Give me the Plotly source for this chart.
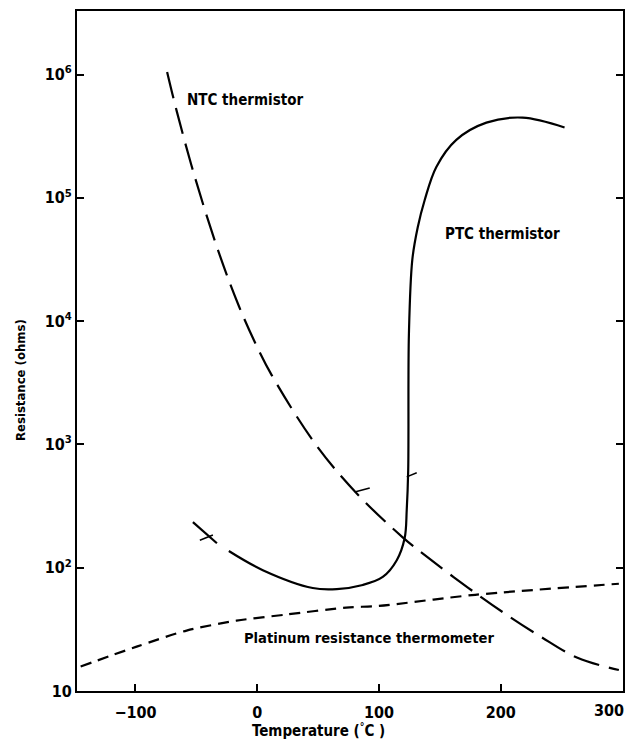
import plotly.graph_objects as go

# ---- data (temperature in degC, resistance in ohms) ----
ntc_T = [-74, -66, -51, -31, -15, -2.4, 12, 48, 81, 119, 143, 173, 203, 233, 263, 297]
ntc_R = [1.05e6, 5.0e5, 1.45e5, 3.47e4, 1.32e4, 6.9e3, 3.63e3, 1.0e3, 407, 178, 115, 69, 42.7, 27.5, 18.6, 14.8]

ptc_stub_T = [-52.8, -33.1]
ptc_stub_R = [234, 158]
ptc_tick_T = [-47.1, -36.4]
ptc_tick_R = [167, 184]

ptc_T = [-23.3, 4.6, 45.6, 65.3, 86.7, 103.1, 114.6, 121.1, 122.8, 124.0, 124.6, 127.4, 131.8, 137.5,
         147.1, 163.5, 188.2, 217.9, 252.4]
ptc_R = [136.5, 95.5, 68.4, 67.1, 72.4, 84.1, 115, 174, 295, 617, 7.94e3, 3.16e4, 5.75e4, 9.55e4,
         1.78e5, 2.95e5, 4.07e5, 4.47e5, 3.72e5]

trace_a_T = [80.1, 92.4]
trace_a_R = [411, 443]
trace_b_T = [122.8, 131.0]
trace_b_R = [545, 589]

pt_T = [-145, -99, -58, -17, 24, 73, 100, 179, 297]
pt_R = [15.8, 22.9, 30.9, 37.2, 41.7, 47.5, 49, 60.3, 74.1]

y_tickvals = [10, 100, 1e3, 1e4, 1e5, 1e6]
y_ticktext = ["10", "10<sup>2</sup>", "10<sup>3</sup>", "10<sup>4</sup>", "10<sup>5</sup>", "10<sup>6</sup>"]
x_tickvals = [-100, 0, 100, 200, 300]
x_ticktext = ["\u2212100", "0", "100", "200", "300"]

FONT = "DejaVu Sans Condensed, Liberation Sans Narrow, Roboto Condensed, DejaVu Sans, sans-serif"

fig = go.Figure()
fig.add_trace(go.Scatter(x=ntc_T, y=ntc_R, mode="lines",
                         line=dict(color="black", width=2.2, dash="27px,10px", shape="spline", smoothing=1.0),
                         hoverinfo="skip"))
fig.add_trace(go.Scatter(x=ptc_stub_T, y=ptc_stub_R, mode="lines",
                         line=dict(color="black", width=2.2), hoverinfo="skip"))
fig.add_trace(go.Scatter(x=ptc_tick_T, y=ptc_tick_R, mode="lines",
                         line=dict(color="black", width=1.6), hoverinfo="skip"))
fig.add_trace(go.Scatter(x=ptc_T, y=ptc_R, mode="lines",
                         line=dict(color="black", width=2.2, shape="spline", smoothing=1.0),
                         hoverinfo="skip"))
fig.add_trace(go.Scatter(x=trace_a_T, y=trace_a_R, mode="lines",
                         line=dict(color="black", width=1.6), hoverinfo="skip"))
fig.add_trace(go.Scatter(x=trace_b_T, y=trace_b_R, mode="lines",
                         line=dict(color="black", width=1.4), hoverinfo="skip"))
fig.add_trace(go.Scatter(x=pt_T, y=pt_R, mode="lines",
                         line=dict(color="black", width=2.2, dash="11px,7px", shape="spline", smoothing=0.8),
                         hoverinfo="skip"))

W, H = 627, 742
L, R_, T_, B = 77, 4, 11, 51
pw, ph = W - L - R_, H - T_ - B


def px2paper(px, py):
    return (px - L) / pw, 1 - (py - T_) / ph


def label(text, px, py, xanchor="left", size=15, angle=0):
    x, y = px2paper(px, py)
    return dict(text=text, x=x, y=y, xref="paper", yref="paper", xanchor=xanchor, yanchor="middle",
                showarrow=False, textangle=angle,
                font=dict(family=FONT, size=size, color="black", weight="bold"))


tickfont = dict(family=FONT, size=16, color="black", weight="bold")

# the last x tick label sits left of its tick (kept inside the page), drawn as a label
last_tick = dict(text=x_ticktext[-1], x=x_tickvals[-1], xref="x", y=px2paper(0, 711)[1], yref="paper",
                 xanchor="right", yanchor="middle", xshift=3, showarrow=False, font=tickfont)
shown_ticktext = x_ticktext[:-1] + [""]

fig.update_layout(
    width=W, height=H,
    margin=dict(l=L, r=R_, t=T_, b=B),
    paper_bgcolor="white", plot_bgcolor="white",
    showlegend=False,
    font=dict(family=FONT, color="black", size=15),
    xaxis=dict(type="linear", range=[-148, 300.4], tickmode="array", automargin=False,
               tickvals=x_tickvals, ticktext=shown_ticktext, ticklabelstandoff=6,
               ticks="inside", ticklen=7, tickwidth=2, tickcolor="black",
               showline=True, linecolor="black", linewidth=2, mirror=True,
               showgrid=False, zeroline=False, tickfont=tickfont),
    yaxis=dict(type="log", range=[1, 6.515], tickmode="array", automargin=False,
               tickvals=y_tickvals, ticktext=y_ticktext,
               ticks="inside", ticklen=7, tickwidth=2, tickcolor="black",
               showline=True, linecolor="black", linewidth=2, mirror="ticks",
               showgrid=False, zeroline=False, tickfont=tickfont),
    annotations=[
        label("NTC thermistor", 185, 100),
        label("PTC thermistor", 443, 234),
        label("Platinum resistance thermometer", 242, 637, size=14.6),
        label("Temperature (<sup>\u00b0</sup>C )", 318, 730, xanchor="center"),
        label("Resistance (ohms)", 20, 380, xanchor="center", size=13, angle=-90),
        last_tick,
    ],
)

fig.write_html("out.html", config={"displayModeBar": False},
               post_script="document.body.style.margin='0';document.body.style.overflow='hidden';")
